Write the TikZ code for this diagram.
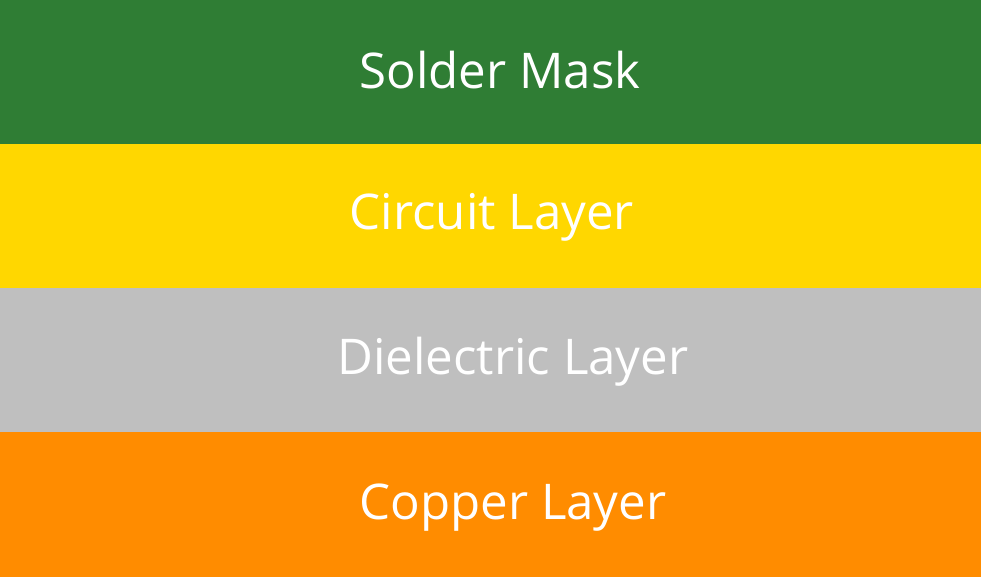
\documentclass[tikz,border=0pt]{standalone}
\usepackage{fontspec}
\setmainfont{Open Sans}
\usetikzlibrary{positioning}
\definecolor{maskgreen}{HTML}{2F7D34}
\definecolor{circuitgold}{HTML}{FFD700}
\definecolor{dielectricgrey}{HTML}{BFBFBF}
\definecolor{copperorange}{HTML}{FF8C00}
\tikzset{
	layer/.style={rectangle, anchor=north west, inner sep=0pt, outer sep=0pt, minimum width=9.87cm, minimum height=1.45cm},
	layertext/.style={anchor=base, text=white, font=\fontsize{14}{16}\selectfont}
}
\begin{document}
\begin{tikzpicture}
		%Bounding box of the stack
		\useasboundingbox (0,0) rectangle (9.81,-5.76);
		
		%Layers of the board, from top to bottom
		\node (Solder Mask) at (-0.03,0.03) [layer, minimum height=1.48cm, fill=maskgreen]{};
		\node (Circuit Layer) at (-0.03,-1.44) [layer, fill=circuitgold]{};
		\node (Dielectric Layer) at (-0.03,-2.88) [layer, fill=dielectricgrey]{};
		\node (Copper Layer) at (-0.03,-4.32) [layer, minimum height=1.48cm, fill=copperorange]{};
		
		%Writing inside the layers
		\node (Scritto1) at (5.00,-0.88) [layertext]{Solder Mask};
		\node (Scritto2) at (4.92,-2.29) [layertext]{Circuit Layer};
		\node (Scritto3) at (5.13,-3.74) [layertext]{Dielectric Layer};
		\node (Scritto4) at (5.13,-5.19) [layertext]{Copper Layer};
		
		\end{tikzpicture}
\end{document}
